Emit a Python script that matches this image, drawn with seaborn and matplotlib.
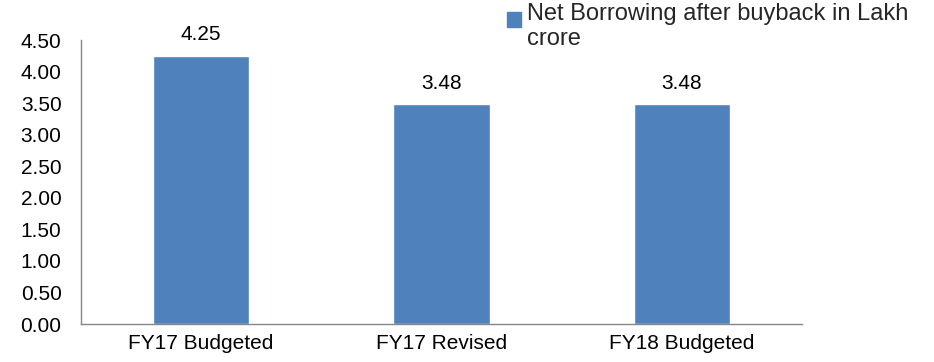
import matplotlib
matplotlib.use("Agg")
import matplotlib.pyplot as plt
import seaborn as sns
import pandas as pd
from matplotlib.patches import Patch, Rectangle
from matplotlib.legend_handler import HandlerPatch

categories = ["FY17 Budgeted", "FY17 Revised", "FY18 Budgeted"]
values = [4.25, 3.48, 3.48]
series_name = "Net Borrowing after buyback in Lakh\ncrore"
y_ticks = [0.0, 0.5, 1.0, 1.5, 2.0, 2.5, 3.0, 3.5, 4.0, 4.5]

sns.set_theme(style="white")
plt.rcParams["font.family"] = ["Liberation Sans", "DejaVu Sans"]

bar_color = "#4F81BD"
axis_color = "#868686"
fs = 15

df = pd.DataFrame({"category": categories, "value": values})

fig = plt.figure(figsize=(9.34, 3.62), dpi=100)
ax = fig.add_axes([81 / 934, 1 - 324 / 362, (802 - 81) / 934, (324 - 40) / 362])

sns.barplot(data=df, x="category", y="value", color=bar_color, width=0.4,
            saturation=1, ax=ax)

ax.set_xlim(-0.5, len(categories) - 0.5)
ax.set_ylim(0, 4.5)
ax.set_yticks(y_ticks)
ax.set_yticklabels([f"{t:.2f}" for t in y_ticks], fontsize=fs, color="black")

# category labels centred under bars, tick marks at the category boundaries
ax.set_xticks([i - 0.5 for i in range(len(categories) + 1)])
ax.set_xticklabels([])
ax.set_xticks(range(len(categories)), minor=True)
ax.set_xticklabels(categories, minor=True, fontsize=fs, color="black")
ax.tick_params(axis="x", which="major", length=5, width=1, color=axis_color, direction="out")
ax.tick_params(axis="x", which="minor", length=0, pad=7.5)
ax.tick_params(axis="y", length=5, width=1, color=axis_color, direction="out", pad=9)

ax.set_xlabel("")
ax.set_ylabel("")
for side in ["top", "right"]:
    ax.spines[side].set_visible(False)
for side in ["left", "bottom"]:
    ax.spines[side].set_color(axis_color)
    ax.spines[side].set_linewidth(1)

for i, v in enumerate(values):
    ax.annotate(f"{v:.2f}", (i, v), xytext=(0, 8.5), textcoords="offset points",
                ha="center", va="bottom", fontsize=fs, color="black")


def square_on_first_line(legend, orig_handle, xdescent, ydescent, width, height, fontsize):
    # keep the legend square level with the first line of a wrapped label
    return Rectangle((-xdescent, -ydescent + 5.5), width, height)


handle = Patch(facecolor=bar_color, edgecolor=bar_color)
fig.legend([handle], [series_name], loc="upper left",
           bbox_to_anchor=(507 / 934, 1 - 3 / 362), frameon=False,
           fontsize=17, handlelength=0.6, handleheight=0.6,
           handletextpad=0.25, borderpad=0, borderaxespad=0, labelspacing=0,
           handler_map={Patch: HandlerPatch(patch_func=square_on_first_line)})

fig.savefig("out.png", dpi=100)
